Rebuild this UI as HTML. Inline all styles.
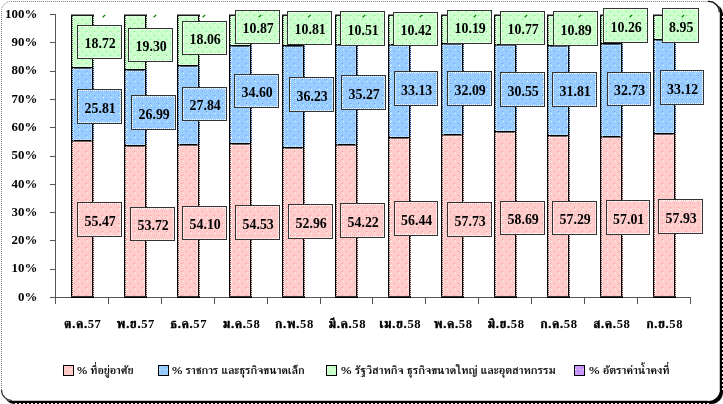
<!DOCTYPE html>
<html><head><meta charset="utf-8"><title>chart</title>
<style>
html,body{margin:0;padding:0;background:#fff;}
body{width:723px;height:404px;overflow:hidden;}
svg{display:block;}
text{font-family:'Liberation Serif','FreeSerif',serif;font-weight:bold;fill:#000;}
</style></head><body>
<svg width="723" height="404" viewBox="0 0 723 404" shape-rendering="crispEdges">
<defs>
<pattern id="ptp" patternUnits="userSpaceOnUse" x="0" y="0" width="8" height="8"><rect width="8" height="8" fill="#FFCCCC"/><rect x="7" y="1" width="1" height="1" fill="#FFFFFF"/><rect x="2" y="3" width="1" height="1" fill="#FF9494"/><rect x="6" y="7" width="1" height="1" fill="#FF9494"/></pattern>
<pattern id="ptb" patternUnits="userSpaceOnUse" x="0" y="0" width="8" height="8"><rect width="8" height="8" fill="#99CCFF"/><rect x="7" y="1" width="1" height="1" fill="#DDFFFF"/><rect x="2" y="3" width="1" height="1" fill="#6699FF"/><rect x="6" y="7" width="1" height="1" fill="#6699FF"/></pattern>
<pattern id="ptg" patternUnits="userSpaceOnUse" x="0" y="0" width="8" height="8"><rect width="8" height="8" fill="#CCFFCC"/><rect x="7" y="1" width="1" height="1" fill="#FFFFFF"/><rect x="2" y="3" width="1" height="1" fill="#66EE7A"/><rect x="6" y="7" width="1" height="1" fill="#66EE7A"/></pattern>
<pattern id="ptv" patternUnits="userSpaceOnUse" x="0" y="0" width="8" height="8"><rect width="8" height="8" fill="#CC99FF"/><rect x="7" y="1" width="1" height="1" fill="#FFFFFF"/><rect x="2" y="3" width="1" height="1" fill="#9966CC"/><rect x="6" y="7" width="1" height="1" fill="#9966CC"/></pattern>
</defs>
<path d="M4,14 A10,10 0 0 1 14,4 L713,4 A10,10 0 0 1 723,14 L723,392 A12,12 0 0 1 711,404 L15,404 A11,11 0 0 1 4,393 Z" fill="#000" shape-rendering="auto"/>
<path d="M1,11 A10,10 0 0 1 11,1 L710,1 A10,10 0 0 1 720,11 L720,389 A12,12 0 0 1 708,401 L12,401 A11,11 0 0 1 1,390 Z" fill="#fff" shape-rendering="auto"/>
<path d="M1.5,392 L1.5,11 A9.5,9.5 0 0 1 11,1.5 L710,1.5 A9.5,9.5 0 0 1 719.5,11" fill="none" stroke="#7a7a7a" stroke-width="1" stroke-dasharray="1 1" shape-rendering="auto"/>
<path d="M708,1.5 A10.5,10.5 0 0 1 719.3,12.5" fill="none" stroke="#111" stroke-width="1.3" shape-rendering="auto"/>
<path d="M1.5,390 A10.5,10.5 0 0 0 12,400.5" fill="none" stroke="#333" stroke-width="1.2" shape-rendering="auto"/>
<line x1="719.5" y1="12" x2="719.5" y2="390" stroke="#c4c4c4"/>
<line x1="12" y1="400.5" x2="708" y2="400.5" stroke="#c4c4c4"/>
<line x1="722.5" y1="16" x2="722.5" y2="392" stroke="#fff" stroke-width="1" stroke-dasharray="2 2"/>
<line x1="15" y1="403.5" x2="711" y2="403.5" stroke="#fff" stroke-width="1" stroke-dasharray="2 2"/>
<g stroke="#555" stroke-width="1">
<line x1="55.5" y1="14" x2="55.5" y2="304"/>
<line x1="50" y1="297.5" x2="690.5" y2="297.5"/>
<line x1="50" y1="297.5" x2="55" y2="297.5"/>
<line x1="50" y1="269.5" x2="55" y2="269.5"/>
<line x1="50" y1="240.5" x2="55" y2="240.5"/>
<line x1="50" y1="212.5" x2="55" y2="212.5"/>
<line x1="50" y1="184.5" x2="55" y2="184.5"/>
<line x1="50" y1="156.5" x2="55" y2="156.5"/>
<line x1="50" y1="127.5" x2="55" y2="127.5"/>
<line x1="50" y1="99.5" x2="55" y2="99.5"/>
<line x1="50" y1="71.5" x2="55" y2="71.5"/>
<line x1="50" y1="42.5" x2="55" y2="42.5"/>
<line x1="50" y1="14.5" x2="55" y2="14.5"/>
<line x1="108.5" y1="297.0" x2="108.5" y2="304"/>
<line x1="161.5" y1="297.0" x2="161.5" y2="304"/>
<line x1="214.5" y1="297.0" x2="214.5" y2="304"/>
<line x1="267.5" y1="297.0" x2="267.5" y2="304"/>
<line x1="320.5" y1="297.0" x2="320.5" y2="304"/>
<line x1="372.5" y1="297.0" x2="372.5" y2="304"/>
<line x1="425.5" y1="297.0" x2="425.5" y2="304"/>
<line x1="478.5" y1="297.0" x2="478.5" y2="304"/>
<line x1="531.5" y1="297.0" x2="531.5" y2="304"/>
<line x1="584.5" y1="297.0" x2="584.5" y2="304"/>
<line x1="637.5" y1="297.0" x2="637.5" y2="304"/>
<line x1="690.5" y1="297.0" x2="690.5" y2="304"/>
</g>
<text x="37.3" y="300.7" font-size="12.9" text-anchor="end">0%</text>
<text x="37.3" y="272.4" font-size="12.9" text-anchor="end">10%</text>
<text x="37.3" y="244.1" font-size="12.9" text-anchor="end">20%</text>
<text x="37.3" y="215.8" font-size="12.9" text-anchor="end">30%</text>
<text x="37.3" y="187.5" font-size="12.9" text-anchor="end">40%</text>
<text x="37.3" y="159.2" font-size="12.9" text-anchor="end">50%</text>
<text x="37.3" y="130.9" font-size="12.9" text-anchor="end">60%</text>
<text x="37.3" y="102.6" font-size="12.9" text-anchor="end">70%</text>
<text x="37.3" y="74.3" font-size="12.9" text-anchor="end">80%</text>
<text x="37.3" y="46.0" font-size="12.9" text-anchor="end">90%</text>
<text x="37.3" y="17.7" font-size="12.9" text-anchor="end">100%</text>
<rect x="71" y="14" width="23" height="54" fill="url(#ptg)"/>
<rect x="71" y="67" width="23" height="74" fill="url(#ptb)"/>
<rect x="71" y="140" width="23" height="158" fill="url(#ptp)"/>
<g fill="#000">
<rect x="71" y="15" width="1" height="283"/>
<rect x="92" y="15" width="1" height="283"/>
<rect x="71" y="14" width="23" height="1" fill="#8a8a8a"/>
<rect x="71" y="15" width="23" height="1" fill="#1a1a1a"/>
<rect x="71" y="297" width="23" height="1"/>
<rect x="71" y="296" width="23" height="1" fill="#333"/>
<rect x="71" y="67" width="22" height="1" fill="#000"/>
<rect x="71" y="68" width="22" height="1" fill="#000" fill-opacity="0.55"/>
<rect x="71" y="140" width="22" height="1" fill="#000"/>
<rect x="71" y="141" width="22" height="1" fill="#000" fill-opacity="0.55"/>
</g>
<line x1="72.5" y1="16" x2="72.5" y2="296" stroke="#000" stroke-opacity="0.6" stroke-dasharray="1 1"/>
<line x1="93.5" y1="16" x2="93.5" y2="298" stroke="#000" stroke-opacity="0.7" stroke-dasharray="1 1"/>
<g stroke="#fff" stroke-dasharray="1 1" stroke-width="1" stroke-opacity="0.6">
<line x1="73.5" y1="16" x2="73.5" y2="296"/>
<line x1="91.5" y1="16" x2="91.5" y2="296"/>
<line x1="74" y1="66.5" x2="91" y2="66.5"/>
<line x1="74" y1="69.5" x2="91" y2="69.5"/>
<line x1="74" y1="139.5" x2="91" y2="139.5"/>
<line x1="74" y1="142.5" x2="91" y2="142.5"/>
<line x1="74" y1="16.5" x2="91" y2="16.5"/>
</g>
<rect x="124" y="14" width="23" height="56" fill="url(#ptg)"/>
<rect x="124" y="69" width="23" height="77" fill="url(#ptb)"/>
<rect x="124" y="145" width="23" height="153" fill="url(#ptp)"/>
<g fill="#000">
<rect x="124" y="15" width="1" height="283"/>
<rect x="145" y="15" width="1" height="283"/>
<rect x="124" y="14" width="23" height="1" fill="#8a8a8a"/>
<rect x="124" y="15" width="23" height="1" fill="#1a1a1a"/>
<rect x="124" y="297" width="23" height="1"/>
<rect x="124" y="296" width="23" height="1" fill="#333"/>
<rect x="124" y="69" width="22" height="1" fill="#000"/>
<rect x="124" y="70" width="22" height="1" fill="#000" fill-opacity="0.55"/>
<rect x="124" y="145" width="22" height="1" fill="#000"/>
<rect x="124" y="146" width="22" height="1" fill="#000" fill-opacity="0.55"/>
</g>
<line x1="125.5" y1="16" x2="125.5" y2="296" stroke="#000" stroke-opacity="0.6" stroke-dasharray="1 1"/>
<line x1="146.5" y1="16" x2="146.5" y2="298" stroke="#000" stroke-opacity="0.7" stroke-dasharray="1 1"/>
<g stroke="#fff" stroke-dasharray="1 1" stroke-width="1" stroke-opacity="0.6">
<line x1="126.5" y1="16" x2="126.5" y2="296"/>
<line x1="144.5" y1="16" x2="144.5" y2="296"/>
<line x1="127" y1="68.5" x2="144" y2="68.5"/>
<line x1="127" y1="71.5" x2="144" y2="71.5"/>
<line x1="127" y1="144.5" x2="144" y2="144.5"/>
<line x1="127" y1="147.5" x2="144" y2="147.5"/>
<line x1="127" y1="16.5" x2="144" y2="16.5"/>
</g>
<rect x="177" y="14" width="23" height="52" fill="url(#ptg)"/>
<rect x="177" y="65" width="23" height="80" fill="url(#ptb)"/>
<rect x="177" y="144" width="23" height="154" fill="url(#ptp)"/>
<g fill="#000">
<rect x="177" y="15" width="1" height="283"/>
<rect x="198" y="15" width="1" height="283"/>
<rect x="177" y="14" width="23" height="1" fill="#8a8a8a"/>
<rect x="177" y="15" width="23" height="1" fill="#1a1a1a"/>
<rect x="177" y="297" width="23" height="1"/>
<rect x="177" y="296" width="23" height="1" fill="#333"/>
<rect x="177" y="65" width="22" height="1" fill="#000"/>
<rect x="177" y="66" width="22" height="1" fill="#000" fill-opacity="0.55"/>
<rect x="177" y="144" width="22" height="1" fill="#000"/>
<rect x="177" y="145" width="22" height="1" fill="#000" fill-opacity="0.55"/>
</g>
<line x1="178.5" y1="16" x2="178.5" y2="296" stroke="#000" stroke-opacity="0.6" stroke-dasharray="1 1"/>
<line x1="199.5" y1="16" x2="199.5" y2="298" stroke="#000" stroke-opacity="0.7" stroke-dasharray="1 1"/>
<g stroke="#fff" stroke-dasharray="1 1" stroke-width="1" stroke-opacity="0.6">
<line x1="179.5" y1="16" x2="179.5" y2="296"/>
<line x1="197.5" y1="16" x2="197.5" y2="296"/>
<line x1="180" y1="64.5" x2="197" y2="64.5"/>
<line x1="180" y1="67.5" x2="197" y2="67.5"/>
<line x1="180" y1="143.5" x2="197" y2="143.5"/>
<line x1="180" y1="146.5" x2="197" y2="146.5"/>
<line x1="180" y1="16.5" x2="197" y2="16.5"/>
</g>
<rect x="229" y="14" width="23" height="32" fill="url(#ptg)"/>
<rect x="229" y="45" width="23" height="99" fill="url(#ptb)"/>
<rect x="229" y="143" width="23" height="155" fill="url(#ptp)"/>
<g fill="#000">
<rect x="229" y="15" width="1" height="283"/>
<rect x="250" y="15" width="1" height="283"/>
<rect x="229" y="14" width="23" height="1" fill="#8a8a8a"/>
<rect x="229" y="15" width="23" height="1" fill="#1a1a1a"/>
<rect x="229" y="297" width="23" height="1"/>
<rect x="229" y="296" width="23" height="1" fill="#333"/>
<rect x="229" y="45" width="22" height="1" fill="#000"/>
<rect x="229" y="46" width="22" height="1" fill="#000" fill-opacity="0.55"/>
<rect x="229" y="143" width="22" height="1" fill="#000"/>
<rect x="229" y="144" width="22" height="1" fill="#000" fill-opacity="0.55"/>
</g>
<line x1="230.5" y1="16" x2="230.5" y2="296" stroke="#000" stroke-opacity="0.6" stroke-dasharray="1 1"/>
<line x1="251.5" y1="16" x2="251.5" y2="298" stroke="#000" stroke-opacity="0.7" stroke-dasharray="1 1"/>
<g stroke="#fff" stroke-dasharray="1 1" stroke-width="1" stroke-opacity="0.6">
<line x1="231.5" y1="16" x2="231.5" y2="296"/>
<line x1="249.5" y1="16" x2="249.5" y2="296"/>
<line x1="232" y1="44.5" x2="249" y2="44.5"/>
<line x1="232" y1="47.5" x2="249" y2="47.5"/>
<line x1="232" y1="142.5" x2="249" y2="142.5"/>
<line x1="232" y1="145.5" x2="249" y2="145.5"/>
<line x1="232" y1="16.5" x2="249" y2="16.5"/>
</g>
<rect x="282" y="14" width="23" height="32" fill="url(#ptg)"/>
<rect x="282" y="45" width="23" height="103" fill="url(#ptb)"/>
<rect x="282" y="147" width="23" height="151" fill="url(#ptp)"/>
<g fill="#000">
<rect x="282" y="15" width="1" height="283"/>
<rect x="303" y="15" width="1" height="283"/>
<rect x="282" y="14" width="23" height="1" fill="#8a8a8a"/>
<rect x="282" y="15" width="23" height="1" fill="#1a1a1a"/>
<rect x="282" y="297" width="23" height="1"/>
<rect x="282" y="296" width="23" height="1" fill="#333"/>
<rect x="282" y="45" width="22" height="1" fill="#000"/>
<rect x="282" y="46" width="22" height="1" fill="#000" fill-opacity="0.55"/>
<rect x="282" y="147" width="22" height="1" fill="#000"/>
<rect x="282" y="148" width="22" height="1" fill="#000" fill-opacity="0.55"/>
</g>
<line x1="283.5" y1="16" x2="283.5" y2="296" stroke="#000" stroke-opacity="0.6" stroke-dasharray="1 1"/>
<line x1="304.5" y1="16" x2="304.5" y2="298" stroke="#000" stroke-opacity="0.7" stroke-dasharray="1 1"/>
<g stroke="#fff" stroke-dasharray="1 1" stroke-width="1" stroke-opacity="0.6">
<line x1="284.5" y1="16" x2="284.5" y2="296"/>
<line x1="302.5" y1="16" x2="302.5" y2="296"/>
<line x1="285" y1="44.5" x2="302" y2="44.5"/>
<line x1="285" y1="47.5" x2="302" y2="47.5"/>
<line x1="285" y1="146.5" x2="302" y2="146.5"/>
<line x1="285" y1="149.5" x2="302" y2="149.5"/>
<line x1="285" y1="16.5" x2="302" y2="16.5"/>
</g>
<rect x="335" y="14" width="23" height="31" fill="url(#ptg)"/>
<rect x="335" y="44" width="23" height="101" fill="url(#ptb)"/>
<rect x="335" y="144" width="23" height="154" fill="url(#ptp)"/>
<g fill="#000">
<rect x="335" y="15" width="1" height="283"/>
<rect x="356" y="15" width="1" height="283"/>
<rect x="335" y="14" width="23" height="1" fill="#8a8a8a"/>
<rect x="335" y="15" width="23" height="1" fill="#1a1a1a"/>
<rect x="335" y="297" width="23" height="1"/>
<rect x="335" y="296" width="23" height="1" fill="#333"/>
<rect x="335" y="44" width="22" height="1" fill="#000"/>
<rect x="335" y="45" width="22" height="1" fill="#000" fill-opacity="0.55"/>
<rect x="335" y="144" width="22" height="1" fill="#000"/>
<rect x="335" y="145" width="22" height="1" fill="#000" fill-opacity="0.55"/>
</g>
<line x1="336.5" y1="16" x2="336.5" y2="296" stroke="#000" stroke-opacity="0.6" stroke-dasharray="1 1"/>
<line x1="357.5" y1="16" x2="357.5" y2="298" stroke="#000" stroke-opacity="0.7" stroke-dasharray="1 1"/>
<g stroke="#fff" stroke-dasharray="1 1" stroke-width="1" stroke-opacity="0.6">
<line x1="337.5" y1="16" x2="337.5" y2="296"/>
<line x1="355.5" y1="16" x2="355.5" y2="296"/>
<line x1="338" y1="43.5" x2="355" y2="43.5"/>
<line x1="338" y1="46.5" x2="355" y2="46.5"/>
<line x1="338" y1="143.5" x2="355" y2="143.5"/>
<line x1="338" y1="146.5" x2="355" y2="146.5"/>
<line x1="338" y1="16.5" x2="355" y2="16.5"/>
</g>
<rect x="388" y="14" width="23" height="31" fill="url(#ptg)"/>
<rect x="388" y="44" width="23" height="94" fill="url(#ptb)"/>
<rect x="388" y="137" width="23" height="161" fill="url(#ptp)"/>
<g fill="#000">
<rect x="388" y="15" width="1" height="283"/>
<rect x="409" y="15" width="1" height="283"/>
<rect x="388" y="14" width="23" height="1" fill="#8a8a8a"/>
<rect x="388" y="15" width="23" height="1" fill="#1a1a1a"/>
<rect x="388" y="297" width="23" height="1"/>
<rect x="388" y="296" width="23" height="1" fill="#333"/>
<rect x="388" y="44" width="22" height="1" fill="#000"/>
<rect x="388" y="45" width="22" height="1" fill="#000" fill-opacity="0.55"/>
<rect x="388" y="137" width="22" height="1" fill="#000"/>
<rect x="388" y="138" width="22" height="1" fill="#000" fill-opacity="0.55"/>
</g>
<line x1="389.5" y1="16" x2="389.5" y2="296" stroke="#000" stroke-opacity="0.6" stroke-dasharray="1 1"/>
<line x1="410.5" y1="16" x2="410.5" y2="298" stroke="#000" stroke-opacity="0.7" stroke-dasharray="1 1"/>
<g stroke="#fff" stroke-dasharray="1 1" stroke-width="1" stroke-opacity="0.6">
<line x1="390.5" y1="16" x2="390.5" y2="296"/>
<line x1="408.5" y1="16" x2="408.5" y2="296"/>
<line x1="391" y1="43.5" x2="408" y2="43.5"/>
<line x1="391" y1="46.5" x2="408" y2="46.5"/>
<line x1="391" y1="136.5" x2="408" y2="136.5"/>
<line x1="391" y1="139.5" x2="408" y2="139.5"/>
<line x1="391" y1="16.5" x2="408" y2="16.5"/>
</g>
<rect x="441" y="14" width="23" height="30" fill="url(#ptg)"/>
<rect x="441" y="43" width="23" height="92" fill="url(#ptb)"/>
<rect x="441" y="134" width="23" height="164" fill="url(#ptp)"/>
<g fill="#000">
<rect x="441" y="15" width="1" height="283"/>
<rect x="462" y="15" width="1" height="283"/>
<rect x="441" y="14" width="23" height="1" fill="#8a8a8a"/>
<rect x="441" y="15" width="23" height="1" fill="#1a1a1a"/>
<rect x="441" y="297" width="23" height="1"/>
<rect x="441" y="296" width="23" height="1" fill="#333"/>
<rect x="441" y="43" width="22" height="1" fill="#000"/>
<rect x="441" y="44" width="22" height="1" fill="#000" fill-opacity="0.55"/>
<rect x="441" y="134" width="22" height="1" fill="#000"/>
<rect x="441" y="135" width="22" height="1" fill="#000" fill-opacity="0.55"/>
</g>
<line x1="442.5" y1="16" x2="442.5" y2="296" stroke="#000" stroke-opacity="0.6" stroke-dasharray="1 1"/>
<line x1="463.5" y1="16" x2="463.5" y2="298" stroke="#000" stroke-opacity="0.7" stroke-dasharray="1 1"/>
<g stroke="#fff" stroke-dasharray="1 1" stroke-width="1" stroke-opacity="0.6">
<line x1="443.5" y1="16" x2="443.5" y2="296"/>
<line x1="461.5" y1="16" x2="461.5" y2="296"/>
<line x1="444" y1="42.5" x2="461" y2="42.5"/>
<line x1="444" y1="45.5" x2="461" y2="45.5"/>
<line x1="444" y1="133.5" x2="461" y2="133.5"/>
<line x1="444" y1="136.5" x2="461" y2="136.5"/>
<line x1="444" y1="16.5" x2="461" y2="16.5"/>
</g>
<rect x="494" y="14" width="23" height="31" fill="url(#ptg)"/>
<rect x="494" y="44" width="23" height="88" fill="url(#ptb)"/>
<rect x="494" y="131" width="23" height="167" fill="url(#ptp)"/>
<g fill="#000">
<rect x="494" y="15" width="1" height="283"/>
<rect x="515" y="15" width="1" height="283"/>
<rect x="494" y="14" width="23" height="1" fill="#8a8a8a"/>
<rect x="494" y="15" width="23" height="1" fill="#1a1a1a"/>
<rect x="494" y="297" width="23" height="1"/>
<rect x="494" y="296" width="23" height="1" fill="#333"/>
<rect x="494" y="44" width="22" height="1" fill="#000"/>
<rect x="494" y="45" width="22" height="1" fill="#000" fill-opacity="0.55"/>
<rect x="494" y="131" width="22" height="1" fill="#000"/>
<rect x="494" y="132" width="22" height="1" fill="#000" fill-opacity="0.55"/>
</g>
<line x1="495.5" y1="16" x2="495.5" y2="296" stroke="#000" stroke-opacity="0.6" stroke-dasharray="1 1"/>
<line x1="516.5" y1="16" x2="516.5" y2="298" stroke="#000" stroke-opacity="0.7" stroke-dasharray="1 1"/>
<g stroke="#fff" stroke-dasharray="1 1" stroke-width="1" stroke-opacity="0.6">
<line x1="496.5" y1="16" x2="496.5" y2="296"/>
<line x1="514.5" y1="16" x2="514.5" y2="296"/>
<line x1="497" y1="43.5" x2="514" y2="43.5"/>
<line x1="497" y1="46.5" x2="514" y2="46.5"/>
<line x1="497" y1="130.5" x2="514" y2="130.5"/>
<line x1="497" y1="133.5" x2="514" y2="133.5"/>
<line x1="497" y1="16.5" x2="514" y2="16.5"/>
</g>
<rect x="547" y="14" width="23" height="32" fill="url(#ptg)"/>
<rect x="547" y="45" width="23" height="91" fill="url(#ptb)"/>
<rect x="547" y="135" width="23" height="163" fill="url(#ptp)"/>
<g fill="#000">
<rect x="547" y="15" width="1" height="283"/>
<rect x="568" y="15" width="1" height="283"/>
<rect x="547" y="14" width="23" height="1" fill="#8a8a8a"/>
<rect x="547" y="15" width="23" height="1" fill="#1a1a1a"/>
<rect x="547" y="297" width="23" height="1"/>
<rect x="547" y="296" width="23" height="1" fill="#333"/>
<rect x="547" y="45" width="22" height="1" fill="#000"/>
<rect x="547" y="46" width="22" height="1" fill="#000" fill-opacity="0.55"/>
<rect x="547" y="135" width="22" height="1" fill="#000"/>
<rect x="547" y="136" width="22" height="1" fill="#000" fill-opacity="0.55"/>
</g>
<line x1="548.5" y1="16" x2="548.5" y2="296" stroke="#000" stroke-opacity="0.6" stroke-dasharray="1 1"/>
<line x1="569.5" y1="16" x2="569.5" y2="298" stroke="#000" stroke-opacity="0.7" stroke-dasharray="1 1"/>
<g stroke="#fff" stroke-dasharray="1 1" stroke-width="1" stroke-opacity="0.6">
<line x1="549.5" y1="16" x2="549.5" y2="296"/>
<line x1="567.5" y1="16" x2="567.5" y2="296"/>
<line x1="550" y1="44.5" x2="567" y2="44.5"/>
<line x1="550" y1="47.5" x2="567" y2="47.5"/>
<line x1="550" y1="134.5" x2="567" y2="134.5"/>
<line x1="550" y1="137.5" x2="567" y2="137.5"/>
<line x1="550" y1="16.5" x2="567" y2="16.5"/>
</g>
<rect x="600" y="14" width="23" height="30" fill="url(#ptg)"/>
<rect x="600" y="43" width="23" height="94" fill="url(#ptb)"/>
<rect x="600" y="136" width="23" height="162" fill="url(#ptp)"/>
<g fill="#000">
<rect x="600" y="15" width="1" height="283"/>
<rect x="621" y="15" width="1" height="283"/>
<rect x="600" y="14" width="23" height="1" fill="#8a8a8a"/>
<rect x="600" y="15" width="23" height="1" fill="#1a1a1a"/>
<rect x="600" y="297" width="23" height="1"/>
<rect x="600" y="296" width="23" height="1" fill="#333"/>
<rect x="600" y="43" width="22" height="1" fill="#000"/>
<rect x="600" y="44" width="22" height="1" fill="#000" fill-opacity="0.55"/>
<rect x="600" y="136" width="22" height="1" fill="#000"/>
<rect x="600" y="137" width="22" height="1" fill="#000" fill-opacity="0.55"/>
</g>
<line x1="601.5" y1="16" x2="601.5" y2="296" stroke="#000" stroke-opacity="0.6" stroke-dasharray="1 1"/>
<line x1="622.5" y1="16" x2="622.5" y2="298" stroke="#000" stroke-opacity="0.7" stroke-dasharray="1 1"/>
<g stroke="#fff" stroke-dasharray="1 1" stroke-width="1" stroke-opacity="0.6">
<line x1="602.5" y1="16" x2="602.5" y2="296"/>
<line x1="620.5" y1="16" x2="620.5" y2="296"/>
<line x1="603" y1="42.5" x2="620" y2="42.5"/>
<line x1="603" y1="45.5" x2="620" y2="45.5"/>
<line x1="603" y1="135.5" x2="620" y2="135.5"/>
<line x1="603" y1="138.5" x2="620" y2="138.5"/>
<line x1="603" y1="16.5" x2="620" y2="16.5"/>
</g>
<rect x="653" y="14" width="23" height="26" fill="url(#ptg)"/>
<rect x="653" y="39" width="23" height="95" fill="url(#ptb)"/>
<rect x="653" y="133" width="23" height="165" fill="url(#ptp)"/>
<g fill="#000">
<rect x="653" y="15" width="1" height="283"/>
<rect x="674" y="15" width="1" height="283"/>
<rect x="653" y="14" width="23" height="1" fill="#8a8a8a"/>
<rect x="653" y="15" width="23" height="1" fill="#1a1a1a"/>
<rect x="653" y="297" width="23" height="1"/>
<rect x="653" y="296" width="23" height="1" fill="#333"/>
<rect x="653" y="39" width="22" height="1" fill="#000"/>
<rect x="653" y="40" width="22" height="1" fill="#000" fill-opacity="0.55"/>
<rect x="653" y="133" width="22" height="1" fill="#000"/>
<rect x="653" y="134" width="22" height="1" fill="#000" fill-opacity="0.55"/>
</g>
<line x1="654.5" y1="16" x2="654.5" y2="296" stroke="#000" stroke-opacity="0.6" stroke-dasharray="1 1"/>
<line x1="675.5" y1="16" x2="675.5" y2="298" stroke="#000" stroke-opacity="0.7" stroke-dasharray="1 1"/>
<g stroke="#fff" stroke-dasharray="1 1" stroke-width="1" stroke-opacity="0.6">
<line x1="655.5" y1="16" x2="655.5" y2="296"/>
<line x1="673.5" y1="16" x2="673.5" y2="296"/>
<line x1="656" y1="38.5" x2="673" y2="38.5"/>
<line x1="656" y1="41.5" x2="673" y2="41.5"/>
<line x1="656" y1="132.5" x2="673" y2="132.5"/>
<line x1="656" y1="135.5" x2="673" y2="135.5"/>
<line x1="656" y1="16.5" x2="673" y2="16.5"/>
</g>
<rect x="77.5" y="25.5" width="44" height="33" fill="url(#ptg)" stroke="#333" stroke-width="1"/>
<rect x="78.5" y="26.5" width="42" height="31" fill="none" stroke="#fff" stroke-width="1" stroke-dasharray="1 1"/>
<text x="100.2" y="48.0" font-size="14.5" text-anchor="middle" textLength="31.2" lengthAdjust="spacingAndGlyphs">18.72</text>
<rect x="77.5" y="89.5" width="44" height="34" fill="url(#ptb)" stroke="#333" stroke-width="1"/>
<rect x="78.5" y="90.5" width="42" height="32" fill="none" stroke="#fff" stroke-width="1" stroke-dasharray="1 1"/>
<text x="100.2" y="112.5" font-size="14.5" text-anchor="middle" textLength="31.2" lengthAdjust="spacingAndGlyphs">25.81</text>
<rect x="77.5" y="202.5" width="44" height="34" fill="url(#ptp)" stroke="#333" stroke-width="1"/>
<rect x="78.5" y="203.5" width="42" height="32" fill="none" stroke="#fff" stroke-width="1" stroke-dasharray="1 1"/>
<text x="100.2" y="225.5" font-size="14.5" text-anchor="middle" textLength="31.2" lengthAdjust="spacingAndGlyphs">55.47</text>
<rect x="128.5" y="28.5" width="44" height="33" fill="url(#ptg)" stroke="#333" stroke-width="1"/>
<rect x="129.5" y="29.5" width="42" height="31" fill="none" stroke="#fff" stroke-width="1" stroke-dasharray="1 1"/>
<text x="151.2" y="51.0" font-size="14.5" text-anchor="middle" textLength="31.2" lengthAdjust="spacingAndGlyphs">19.30</text>
<rect x="131.5" y="95.5" width="44" height="34" fill="url(#ptb)" stroke="#333" stroke-width="1"/>
<rect x="132.5" y="96.5" width="42" height="32" fill="none" stroke="#fff" stroke-width="1" stroke-dasharray="1 1"/>
<text x="154.2" y="118.5" font-size="14.5" text-anchor="middle" textLength="31.2" lengthAdjust="spacingAndGlyphs">26.99</text>
<rect x="130.5" y="207.5" width="44" height="33" fill="url(#ptp)" stroke="#333" stroke-width="1"/>
<rect x="131.5" y="208.5" width="42" height="31" fill="none" stroke="#fff" stroke-width="1" stroke-dasharray="1 1"/>
<text x="153.2" y="230.0" font-size="14.5" text-anchor="middle" textLength="31.2" lengthAdjust="spacingAndGlyphs">53.72</text>
<rect x="182.5" y="21.5" width="44" height="33" fill="url(#ptg)" stroke="#333" stroke-width="1"/>
<rect x="183.5" y="22.5" width="42" height="31" fill="none" stroke="#fff" stroke-width="1" stroke-dasharray="1 1"/>
<text x="205.2" y="44.0" font-size="14.5" text-anchor="middle" textLength="31.2" lengthAdjust="spacingAndGlyphs">18.06</text>
<rect x="182.5" y="87.5" width="44" height="33" fill="url(#ptb)" stroke="#333" stroke-width="1"/>
<rect x="183.5" y="88.5" width="42" height="31" fill="none" stroke="#fff" stroke-width="1" stroke-dasharray="1 1"/>
<text x="205.2" y="110.0" font-size="14.5" text-anchor="middle" textLength="31.2" lengthAdjust="spacingAndGlyphs">27.84</text>
<rect x="182.5" y="206.5" width="44" height="33" fill="url(#ptp)" stroke="#333" stroke-width="1"/>
<rect x="183.5" y="207.5" width="42" height="31" fill="none" stroke="#fff" stroke-width="1" stroke-dasharray="1 1"/>
<text x="205.2" y="229.0" font-size="14.5" text-anchor="middle" textLength="31.2" lengthAdjust="spacingAndGlyphs">54.10</text>
<rect x="235.5" y="10.5" width="44" height="33" fill="url(#ptg)" stroke="#333" stroke-width="1"/>
<rect x="236.5" y="11.5" width="42" height="31" fill="none" stroke="#fff" stroke-width="1" stroke-dasharray="1 1"/>
<text x="258.2" y="33.0" font-size="14.5" text-anchor="middle" textLength="31.2" lengthAdjust="spacingAndGlyphs">10.87</text>
<rect x="234.5" y="74.5" width="44" height="33" fill="url(#ptb)" stroke="#333" stroke-width="1"/>
<rect x="235.5" y="75.5" width="42" height="31" fill="none" stroke="#fff" stroke-width="1" stroke-dasharray="1 1"/>
<text x="257.2" y="97.0" font-size="14.5" text-anchor="middle" textLength="31.2" lengthAdjust="spacingAndGlyphs">34.60</text>
<rect x="235.5" y="205.5" width="44" height="34" fill="url(#ptp)" stroke="#333" stroke-width="1"/>
<rect x="236.5" y="206.5" width="42" height="32" fill="none" stroke="#fff" stroke-width="1" stroke-dasharray="1 1"/>
<text x="258.2" y="228.5" font-size="14.5" text-anchor="middle" textLength="31.2" lengthAdjust="spacingAndGlyphs">54.53</text>
<rect x="287.5" y="11.5" width="44" height="33" fill="url(#ptg)" stroke="#333" stroke-width="1"/>
<rect x="288.5" y="12.5" width="42" height="31" fill="none" stroke="#fff" stroke-width="1" stroke-dasharray="1 1"/>
<text x="310.2" y="34.0" font-size="14.5" text-anchor="middle" textLength="31.2" lengthAdjust="spacingAndGlyphs">10.81</text>
<rect x="289.5" y="77.5" width="44" height="34" fill="url(#ptb)" stroke="#333" stroke-width="1"/>
<rect x="290.5" y="78.5" width="42" height="32" fill="none" stroke="#fff" stroke-width="1" stroke-dasharray="1 1"/>
<text x="312.2" y="100.5" font-size="14.5" text-anchor="middle" textLength="31.2" lengthAdjust="spacingAndGlyphs">36.23</text>
<rect x="288.5" y="204.5" width="44" height="34" fill="url(#ptp)" stroke="#333" stroke-width="1"/>
<rect x="289.5" y="205.5" width="42" height="32" fill="none" stroke="#fff" stroke-width="1" stroke-dasharray="1 1"/>
<text x="311.2" y="227.5" font-size="14.5" text-anchor="middle" textLength="31.2" lengthAdjust="spacingAndGlyphs">52.96</text>
<rect x="340.5" y="11.5" width="44" height="34" fill="url(#ptg)" stroke="#333" stroke-width="1"/>
<rect x="341.5" y="12.5" width="42" height="32" fill="none" stroke="#fff" stroke-width="1" stroke-dasharray="1 1"/>
<text x="363.2" y="34.5" font-size="14.5" text-anchor="middle" textLength="31.2" lengthAdjust="spacingAndGlyphs">10.51</text>
<rect x="341.5" y="75.5" width="44" height="34" fill="url(#ptb)" stroke="#333" stroke-width="1"/>
<rect x="342.5" y="76.5" width="42" height="32" fill="none" stroke="#fff" stroke-width="1" stroke-dasharray="1 1"/>
<text x="364.2" y="98.5" font-size="14.5" text-anchor="middle" textLength="31.2" lengthAdjust="spacingAndGlyphs">35.27</text>
<rect x="340.5" y="203.5" width="44" height="34" fill="url(#ptp)" stroke="#333" stroke-width="1"/>
<rect x="341.5" y="204.5" width="42" height="32" fill="none" stroke="#fff" stroke-width="1" stroke-dasharray="1 1"/>
<text x="363.2" y="226.5" font-size="14.5" text-anchor="middle" textLength="31.2" lengthAdjust="spacingAndGlyphs">54.22</text>
<rect x="393.5" y="12.5" width="44" height="33" fill="url(#ptg)" stroke="#333" stroke-width="1"/>
<rect x="394.5" y="13.5" width="42" height="31" fill="none" stroke="#fff" stroke-width="1" stroke-dasharray="1 1"/>
<text x="416.2" y="35.0" font-size="14.5" text-anchor="middle" textLength="31.2" lengthAdjust="spacingAndGlyphs">10.42</text>
<rect x="394.5" y="71.5" width="43" height="34" fill="url(#ptb)" stroke="#333" stroke-width="1"/>
<rect x="395.5" y="72.5" width="41" height="32" fill="none" stroke="#fff" stroke-width="1" stroke-dasharray="1 1"/>
<text x="416.7" y="94.5" font-size="14.5" text-anchor="middle" textLength="31.2" lengthAdjust="spacingAndGlyphs">33.13</text>
<rect x="394.5" y="201.5" width="43" height="34" fill="url(#ptp)" stroke="#333" stroke-width="1"/>
<rect x="395.5" y="202.5" width="41" height="32" fill="none" stroke="#fff" stroke-width="1" stroke-dasharray="1 1"/>
<text x="416.7" y="224.5" font-size="14.5" text-anchor="middle" textLength="31.2" lengthAdjust="spacingAndGlyphs">56.44</text>
<rect x="447.5" y="10.5" width="44" height="33" fill="url(#ptg)" stroke="#333" stroke-width="1"/>
<rect x="448.5" y="11.5" width="42" height="31" fill="none" stroke="#fff" stroke-width="1" stroke-dasharray="1 1"/>
<text x="470.2" y="33.0" font-size="14.5" text-anchor="middle" textLength="31.2" lengthAdjust="spacingAndGlyphs">10.19</text>
<rect x="447.5" y="71.5" width="44" height="34" fill="url(#ptb)" stroke="#333" stroke-width="1"/>
<rect x="448.5" y="72.5" width="42" height="32" fill="none" stroke="#fff" stroke-width="1" stroke-dasharray="1 1"/>
<text x="470.2" y="94.5" font-size="14.5" text-anchor="middle" textLength="31.2" lengthAdjust="spacingAndGlyphs">32.09</text>
<rect x="447.5" y="202.5" width="44" height="34" fill="url(#ptp)" stroke="#333" stroke-width="1"/>
<rect x="448.5" y="203.5" width="42" height="32" fill="none" stroke="#fff" stroke-width="1" stroke-dasharray="1 1"/>
<text x="470.2" y="225.5" font-size="14.5" text-anchor="middle" textLength="31.2" lengthAdjust="spacingAndGlyphs">57.73</text>
<rect x="500.5" y="11.5" width="44" height="33" fill="url(#ptg)" stroke="#333" stroke-width="1"/>
<rect x="501.5" y="12.5" width="42" height="31" fill="none" stroke="#fff" stroke-width="1" stroke-dasharray="1 1"/>
<text x="523.2" y="34.0" font-size="14.5" text-anchor="middle" textLength="31.2" lengthAdjust="spacingAndGlyphs">10.77</text>
<rect x="500.5" y="72.5" width="44" height="34" fill="url(#ptb)" stroke="#333" stroke-width="1"/>
<rect x="501.5" y="73.5" width="42" height="32" fill="none" stroke="#fff" stroke-width="1" stroke-dasharray="1 1"/>
<text x="523.2" y="95.5" font-size="14.5" text-anchor="middle" textLength="31.2" lengthAdjust="spacingAndGlyphs">30.55</text>
<rect x="500.5" y="201.5" width="44" height="33" fill="url(#ptp)" stroke="#333" stroke-width="1"/>
<rect x="501.5" y="202.5" width="42" height="31" fill="none" stroke="#fff" stroke-width="1" stroke-dasharray="1 1"/>
<text x="523.2" y="224.0" font-size="14.5" text-anchor="middle" textLength="31.2" lengthAdjust="spacingAndGlyphs">58.69</text>
<rect x="553.5" y="11.5" width="44" height="34" fill="url(#ptg)" stroke="#333" stroke-width="1"/>
<rect x="554.5" y="12.5" width="42" height="32" fill="none" stroke="#fff" stroke-width="1" stroke-dasharray="1 1"/>
<text x="576.2" y="34.5" font-size="14.5" text-anchor="middle" textLength="31.2" lengthAdjust="spacingAndGlyphs">10.89</text>
<rect x="552.5" y="72.5" width="44" height="34" fill="url(#ptb)" stroke="#333" stroke-width="1"/>
<rect x="553.5" y="73.5" width="42" height="32" fill="none" stroke="#fff" stroke-width="1" stroke-dasharray="1 1"/>
<text x="575.2" y="95.5" font-size="14.5" text-anchor="middle" textLength="31.2" lengthAdjust="spacingAndGlyphs">31.81</text>
<rect x="552.5" y="201.5" width="44" height="33" fill="url(#ptp)" stroke="#333" stroke-width="1"/>
<rect x="553.5" y="202.5" width="42" height="31" fill="none" stroke="#fff" stroke-width="1" stroke-dasharray="1 1"/>
<text x="575.2" y="224.0" font-size="14.5" text-anchor="middle" textLength="31.2" lengthAdjust="spacingAndGlyphs">57.29</text>
<rect x="603.5" y="8.5" width="44" height="34" fill="url(#ptg)" stroke="#333" stroke-width="1"/>
<rect x="604.5" y="9.5" width="42" height="32" fill="none" stroke="#fff" stroke-width="1" stroke-dasharray="1 1"/>
<text x="626.2" y="31.5" font-size="14.5" text-anchor="middle" textLength="31.2" lengthAdjust="spacingAndGlyphs">10.26</text>
<rect x="607.5" y="72.5" width="43" height="33" fill="url(#ptb)" stroke="#333" stroke-width="1"/>
<rect x="608.5" y="73.5" width="41" height="31" fill="none" stroke="#fff" stroke-width="1" stroke-dasharray="1 1"/>
<text x="629.7" y="95.0" font-size="14.5" text-anchor="middle" textLength="31.2" lengthAdjust="spacingAndGlyphs">32.73</text>
<rect x="606.5" y="200.5" width="43" height="34" fill="url(#ptp)" stroke="#333" stroke-width="1"/>
<rect x="607.5" y="201.5" width="41" height="32" fill="none" stroke="#fff" stroke-width="1" stroke-dasharray="1 1"/>
<text x="628.7" y="223.5" font-size="14.5" text-anchor="middle" textLength="31.2" lengthAdjust="spacingAndGlyphs">57.01</text>
<rect x="662.5" y="8.5" width="36" height="34" fill="url(#ptg)" stroke="#333" stroke-width="1"/>
<rect x="663.5" y="9.5" width="34" height="32" fill="none" stroke="#fff" stroke-width="1" stroke-dasharray="1 1"/>
<text x="681.2" y="31.5" font-size="14.5" text-anchor="middle" textLength="24.2" lengthAdjust="spacingAndGlyphs">8.95</text>
<rect x="660.5" y="70.5" width="43" height="34" fill="url(#ptb)" stroke="#333" stroke-width="1"/>
<rect x="661.5" y="71.5" width="41" height="32" fill="none" stroke="#fff" stroke-width="1" stroke-dasharray="1 1"/>
<text x="682.7" y="93.5" font-size="14.5" text-anchor="middle" textLength="31.2" lengthAdjust="spacingAndGlyphs">33.12</text>
<rect x="658.5" y="199.5" width="44" height="34" fill="url(#ptp)" stroke="#333" stroke-width="1"/>
<rect x="659.5" y="200.5" width="42" height="32" fill="none" stroke="#fff" stroke-width="1" stroke-dasharray="1 1"/>
<text x="681.2" y="222.5" font-size="14.5" text-anchor="middle" textLength="31.2" lengthAdjust="spacingAndGlyphs">57.93</text>
<line x1="102.7" y1="17.3" x2="105.2" y2="14.9" stroke="#008000" stroke-width="1.2" shape-rendering="auto"/>
<line x1="153.7" y1="17.3" x2="156.2" y2="14.9" stroke="#008000" stroke-width="1.2" shape-rendering="auto"/>
<line x1="202.7" y1="17.3" x2="205.2" y2="14.9" stroke="#008000" stroke-width="1.2" shape-rendering="auto"/>
<line x1="258.7" y1="17.3" x2="261.2" y2="14.9" stroke="#008000" stroke-width="1.2" shape-rendering="auto"/>
<line x1="308.2" y1="17.3" x2="310.7" y2="14.9" stroke="#008000" stroke-width="1.2" shape-rendering="auto"/>
<line x1="362.7" y1="17.3" x2="365.2" y2="14.9" stroke="#008000" stroke-width="1.2" shape-rendering="auto"/>
<line x1="419.7" y1="17.3" x2="422.2" y2="14.9" stroke="#008000" stroke-width="1.2" shape-rendering="auto"/>
<line x1="473.7" y1="17.3" x2="476.2" y2="14.9" stroke="#008000" stroke-width="1.2" shape-rendering="auto"/>
<line x1="524.7" y1="17.3" x2="527.2" y2="14.9" stroke="#008000" stroke-width="1.2" shape-rendering="auto"/>
<line x1="578.7" y1="17.3" x2="581.2" y2="14.9" stroke="#008000" stroke-width="1.2" shape-rendering="auto"/>
<line x1="629.7" y1="17.3" x2="632.2" y2="14.9" stroke="#008000" stroke-width="1.2" shape-rendering="auto"/>
<line x1="681.7" y1="17.3" x2="684.2" y2="14.9" stroke="#008000" stroke-width="1.2" shape-rendering="auto"/>
<text x="82.8" y="327.5" font-size="12.6" letter-spacing="0.6" text-anchor="middle"><tspan stroke="#000" stroke-width="0.35">ต.ค.</tspan>57</text>
<text x="135.8" y="327.5" font-size="12.6" letter-spacing="0.6" text-anchor="middle"><tspan stroke="#000" stroke-width="0.35">พ.ย.</tspan>57</text>
<text x="188.7" y="327.5" font-size="12.6" letter-spacing="0.6" text-anchor="middle"><tspan stroke="#000" stroke-width="0.35">ธ.ค.</tspan>57</text>
<text x="241.6" y="327.5" font-size="12.6" letter-spacing="0.6" text-anchor="middle"><tspan stroke="#000" stroke-width="0.35">ม.ค.</tspan>58</text>
<text x="294.4" y="327.5" font-size="12.6" letter-spacing="0.6" text-anchor="middle"><tspan stroke="#000" stroke-width="0.35">ก.พ.</tspan>58</text>
<text x="347.4" y="327.5" font-size="12.6" letter-spacing="0.6" text-anchor="middle"><tspan stroke="#000" stroke-width="0.35">มี.ค.</tspan>58</text>
<text x="400.2" y="327.5" font-size="12.6" letter-spacing="0.6" text-anchor="middle"><tspan stroke="#000" stroke-width="0.35">เม.ย.</tspan>58</text>
<text x="453.2" y="327.5" font-size="12.6" letter-spacing="0.6" text-anchor="middle"><tspan stroke="#000" stroke-width="0.35">พ.ค.</tspan>58</text>
<text x="506.1" y="327.5" font-size="12.6" letter-spacing="0.6" text-anchor="middle"><tspan stroke="#000" stroke-width="0.35">มิ.ย.</tspan>58</text>
<text x="558.9" y="327.5" font-size="12.6" letter-spacing="0.6" text-anchor="middle"><tspan stroke="#000" stroke-width="0.35">ก.ค.</tspan>58</text>
<text x="611.8" y="327.5" font-size="12.6" letter-spacing="0.6" text-anchor="middle"><tspan stroke="#000" stroke-width="0.35">ส.ค.</tspan>58</text>
<text x="664.7" y="327.5" font-size="12.6" letter-spacing="0.6" text-anchor="middle"><tspan stroke="#000" stroke-width="0.35">ก.ย.</tspan>58</text>
<rect x="63.5" y="365.5" width="10" height="10" fill="url(#ptp)" stroke="#000" stroke-width="1"/>
<text x="77" y="373.7" font-size="10.5" style="font-weight:normal" stroke="#000" stroke-width="0.2" textLength="56.5" lengthAdjust="spacingAndGlyphs">% ที่อยู่อาศัย</text>
<rect x="158.5" y="365.5" width="10" height="10" fill="url(#ptb)" stroke="#000" stroke-width="1"/>
<text x="172" y="373.7" font-size="10.5" style="font-weight:normal" stroke="#000" stroke-width="0.2" textLength="132.5" lengthAdjust="spacingAndGlyphs">% ราชการ และธุรกิจขนาดเล็ก</text>
<rect x="326.5" y="365.5" width="10" height="10" fill="url(#ptg)" stroke="#000" stroke-width="1"/>
<text x="341" y="373.7" font-size="10.5" style="font-weight:normal" stroke="#000" stroke-width="0.2" textLength="214.5" lengthAdjust="spacingAndGlyphs">% รัฐวิสาหกิจ ธุรกิจขนาดใหญ่ และอุตสาหกรรม</text>
<rect x="574.5" y="365.5" width="10" height="10" fill="url(#ptv)" stroke="#000" stroke-width="1"/>
<text x="589" y="373.7" font-size="10.5" style="font-weight:normal" stroke="#000" stroke-width="0.2" textLength="80.5" lengthAdjust="spacingAndGlyphs">% อัตราค่าน้ำคงที่</text>
</svg></body></html>
